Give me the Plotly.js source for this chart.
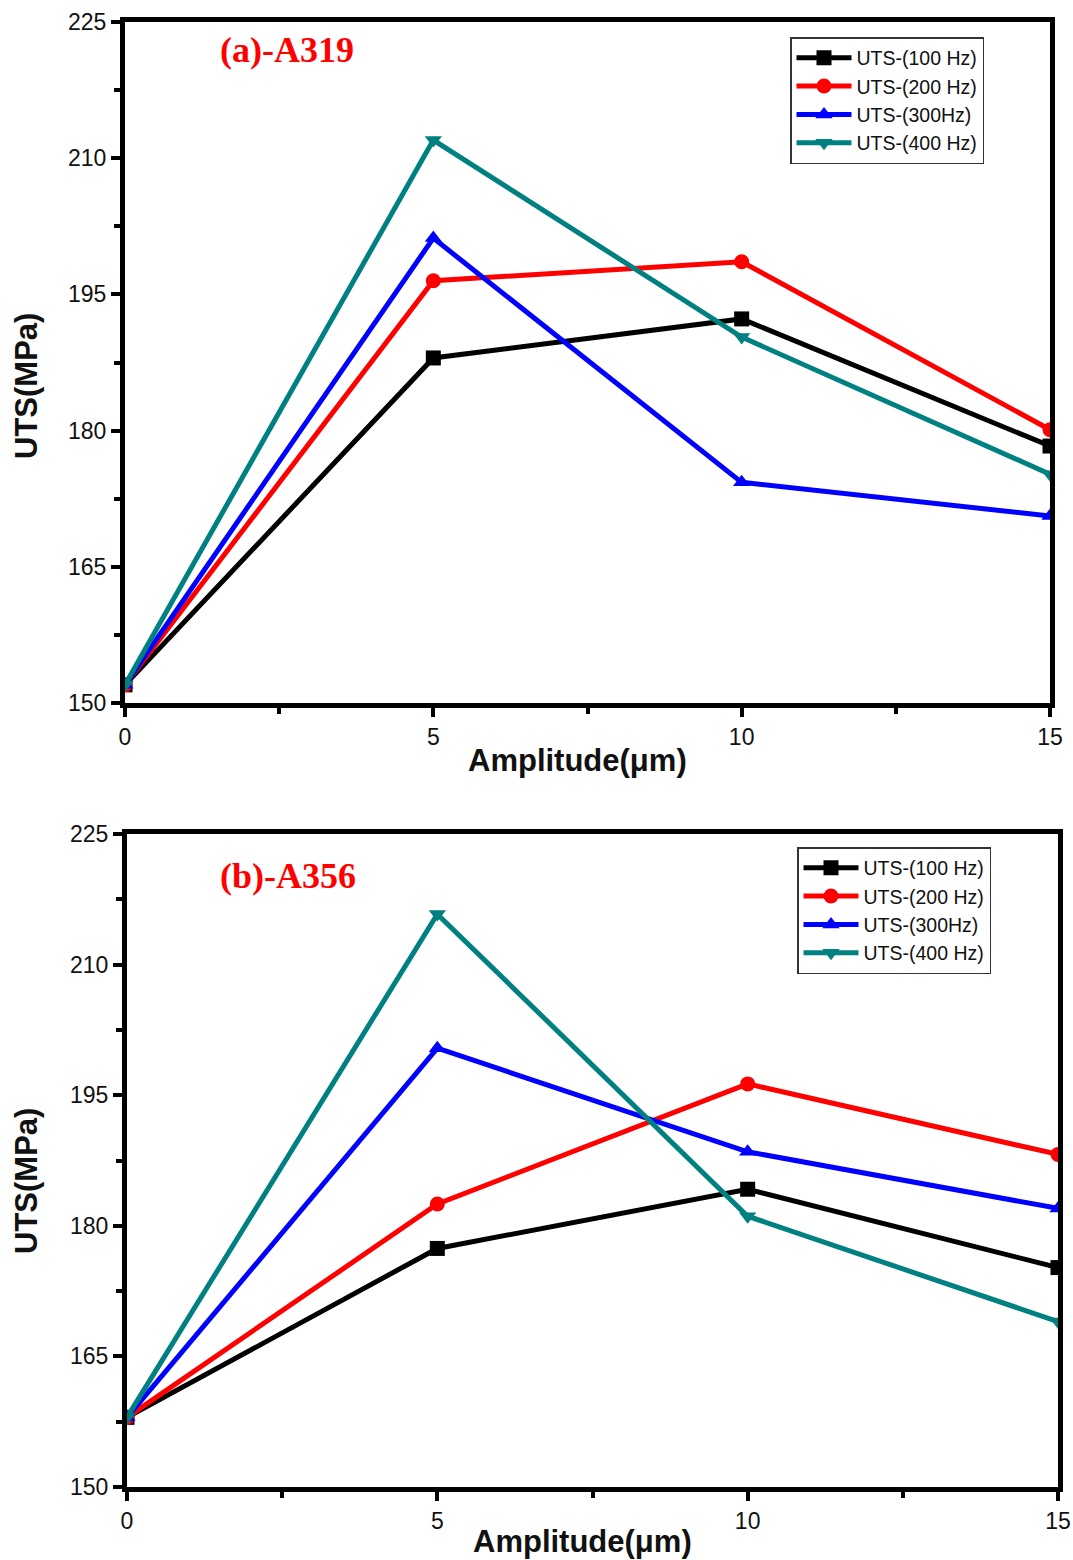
<!DOCTYPE html>
<html>
<head>
<meta charset="utf-8">
<script src="https://cdn.plot.ly/plotly-3.0.1.min.js"></script>
<style>html,body{margin:0;padding:0;background:#fff;}#chart{width:1073px;height:1560px;}</style>
</head>
<body>
<div id="chart"></div>
<script>
const amplitude = [0, 5, 10, 15];
const seriesNames = ["UTS-(100 Hz)", "UTS-(200 Hz)", "UTS-(300Hz)", "UTS-(400 Hz)"];
const a319_100 = [152, 188.0, 192.3, 178.3];
const a319_200 = [152, 196.5, 198.6, 180.1];
const a319_300 = [152, 201.2, 174.3, 170.6];
const a319_400 = [152, 212.0, 190.3, 175.2];
const a356_100 = [158, 177.4, 184.2, 175.2];
const a356_200 = [158, 182.5, 196.3, 188.2];
const a356_300 = [158, 200.4, 188.5, 182.0];
const a356_400 = [158, 215.8, 181.1, 169.0];
const xTicks = [0, 5, 10, 15];
const yTicks = [150, 165, 180, 195, 210, 225];

const colors = ["#000000", "#ff0000", "#0000ff", "#008080"];
const symbols = ["square", "circle", "triangle-up", "triangle-down"];

function mk(y, i, xa, ya, leg) {
  return {
    x: amplitude, y: y, type: "scatter", mode: "lines+markers",
    name: seriesNames[i], xaxis: xa, yaxis: ya, legend: leg,
    line: {color: colors[i], width: 5},
    marker: {symbol: symbols[i], size: 15, color: colors[i]}
  };
}
const seriesA319 = [a319_100, a319_200, a319_300, a319_400];
const seriesA356 = [a356_100, a356_200, a356_300, a356_400];
const data = [];
seriesA319.forEach((s, i) => data.push(mk(s, i, "x", "y", "legend")));
seriesA356.forEach((s, i) => data.push(mk(s, i, "x2", "y2", "legend2")));

const tickFont = {family: "Liberation Sans, Arial, sans-serif", size: 23, color: "#111"};
const titleFont = {family: "Liberation Sans, Arial, sans-serif", size: 31, color: "#111", weight: "bold"};

function makeX(dom, anchor) {
  return {
    domain: dom, anchor: anchor, range: [0, 15], tickvals: xTicks,
    ticks: "outside", ticklen: 9, tickwidth: 4, tickcolor: "#000",
    showline: true, linewidth: 5, linecolor: "#000", mirror: true,
    showgrid: false, zeroline: false, tickfont: tickFont,
    minor: {dtick: 2.5, tick0: 0, ticks: "outside", ticklen: 6, tickwidth: 4, tickcolor: "#000", showgrid: false}
  };
}
function makeY(dom, anchor) {
  return {
    domain: dom, anchor: anchor, range: [150, 225], tickvals: yTicks,
    ticks: "outside", ticklen: 9, tickwidth: 4, tickcolor: "#000",
    showline: true, linewidth: 5, linecolor: "#000", mirror: true,
    showgrid: false, zeroline: false, tickfont: tickFont,
    minor: {dtick: 7.5, tick0: 150, ticks: "outside", ticklen: 6, tickwidth: 4, tickcolor: "#000", showgrid: false}
  };
}
const legFont = {family: "Liberation Sans, Arial, sans-serif", size: 19.5, color: "#111"};

function px(x) { return x / 1073; }
function py(y) { return 1 - y / 1560; }
function title(text, x, y, angle) {
  return {text: "<b>" + text + "</b>", xref: "paper", yref: "paper", x: px(x), y: py(y),
    xanchor: "center", yanchor: "middle", textangle: angle, showarrow: false, font: titleFont};
}
function label(text, x, y) {
  return {text: "<b>" + text + "</b>", xref: "paper", yref: "paper", x: px(x), y: py(y), xanchor: "left", yanchor: "middle",
    showarrow: false, font: {family: "Liberation Serif, Times New Roman, serif", size: 36, color: "#ff0000"}};
}

const layout = {
  width: 1073, height: 1560,
  margin: {l: 0, r: 0, t: 0, b: 0},
  paper_bgcolor: "#fff", plot_bgcolor: "#fff",
  showlegend: true,
  xaxis: makeX([px(125), px(1050)], "y"),
  yaxis: makeY([py(703), py(22)], "x"),
  xaxis2: makeX([px(127), px(1058)], "y2"),
  yaxis2: makeY([py(1487), py(834)], "x2"),
  legend: {x: px(790), y: py(37), xanchor: "left", yanchor: "top", xref: "paper", yref: "paper",
    bordercolor: "#333", borderwidth: 1.5, bgcolor: "#fff", font: legFont, tracegroupgap: 0, itemwidth: 55},
  legend2: {x: px(797), y: py(847), xanchor: "left", yanchor: "top", xref: "paper", yref: "paper",
    bordercolor: "#333", borderwidth: 1.5, bgcolor: "#fff", font: legFont, tracegroupgap: 0, itemwidth: 55},
  annotations: [
    label("(a)-A319", 218, 50),
    label("(b)-A356", 218, 876),
    title("Amplitude(μm)", 577, 760, 0),
    title("Amplitude(μm)", 582, 1541, 0),
    title("UTS(MPa)", 26, 386, -90),
    title("UTS(MPa)", 26, 1181, -90)
  ]
};
Plotly.newPlot("chart", data, layout, {displayModeBar: false, staticPlot: true});
</script>
</body>
</html>
